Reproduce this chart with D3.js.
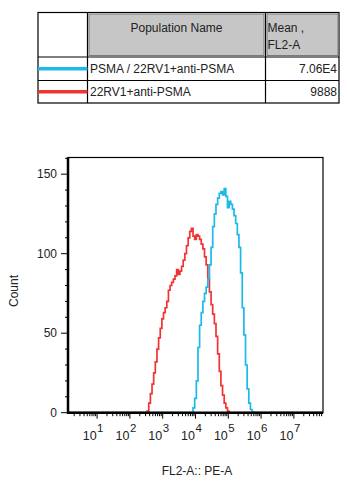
<!DOCTYPE html>
<html><head><meta charset="utf-8">
<script src="https://cdn.jsdelivr.net/npm/d3@7"></script>
<style>
html,body{margin:0;padding:0;background:#fff;}
text{font-family:"Liberation Sans",Arial,sans-serif;fill:#222;}
</style></head>
<body>
<svg id="c" width="347" height="486"></svg>
<script>
// ---- data ----
const seriesNames = ["PSMA / 22RV1+anti-PSMA", "22RV1+anti-PSMA"];
const seriesMeans = ["7.06E4", "9888"];
const seriesColors = ["#1cb9ea", "#f03434"];
// red: log10 channel positions and counts
const redLog = [2.50,2.55,2.60,2.65,2.70,2.75,2.80,2.85,2.90,2.95,3.00,3.05,3.10,3.15,3.20,3.25,3.30,3.35,3.40,3.45,3.50,3.55,3.60,3.65,3.70,3.75,3.80,3.85,3.90,3.95,4.00,4.05,4.10,4.15,4.20,4.25,4.30,4.35,4.40,4.45,4.50,4.55,4.60,4.65,4.70,4.75,4.80,4.85,4.90,4.95,5.00,5.05];
const redCount = [0,1,6,12,18,25,32,40,47,53,59,63,66,70,77,80,82,84,86,90,87,89,92,96,100,105,110,114,116,111,109,112,111,109,106,103,98,93,84,76,68,62,56,48,37,26,17,11,6,3,1,0];
const blueLog = [3.90,3.95,4.00,4.05,4.10,4.15,4.20,4.25,4.30,4.35,4.40,4.45,4.50,4.55,4.60,4.65,4.70,4.75,4.80,4.85,4.90,4.95,5.00,5.05,5.10,5.15,5.20,5.25,5.30,5.35,5.40,5.45,5.50,5.55,5.60,5.65,5.70,5.75,5.80];
const blueCount = [0,3,9,20,41,55,63,70,75,79,84,93,104,117,125,131,135,138,139,137,141,136,129,133,131,128,124,119,112,104,88,66,49,30,15,6,2,0.5,0];
const yTicks = [0,50,100,150];
const xDecades = [1,2,3,4,5,6,7];
const xLabel = "FL2-A:: PE-A";
const yLabel = "Count";
const headers = ["Population Name", "Mean ,", "FL2-A"];

const svg = d3.select("#c");
const FS = 12;

// ---- table ----
const T = {x0:38, x1:87.5, x2:265.5, x3:339, y0:12.5, y1:57, y2:80.5, y3:103};
const tg = svg.append("g");
tg.append("rect").attr("x",T.x0).attr("y",T.y0).attr("width",T.x3-T.x0).attr("height",T.y3-T.y0)
  .attr("fill","#fff").attr("stroke","#000").attr("stroke-width",1.2);
[[T.x1+1.5,T.x2-1.5],[T.x2+1.5,T.x3-1]].forEach(([a,b])=>{
  tg.append("rect").attr("x",a).attr("y",T.y0+1.5).attr("width",b-a).attr("height",T.y1-T.y0-3)
    .attr("fill","#c6c6c6").attr("stroke","#7a7a7a").attr("stroke-width",1);
});
[T.x1,T.x2].forEach(x=>tg.append("line").attr("x1",x).attr("x2",x).attr("y1",T.y0).attr("y2",T.y3).attr("stroke","#000").attr("stroke-width",1.2));
[T.y1,T.y2].forEach(y=>tg.append("line").attr("x1",T.x0).attr("x2",T.x3).attr("y1",y).attr("y2",y).attr("stroke","#000").attr("stroke-width",1.2));
tg.append("text").attr("x",(T.x1+T.x2)/2).attr("y",32).attr("text-anchor","middle").attr("font-size",FS).text(headers[0]);
tg.append("text").attr("x",T.x2+2).attr("y",32).attr("font-size",FS).text(headers[1]);
tg.append("text").attr("x",T.x2+2).attr("y",49).attr("font-size",FS).text(headers[2]);
const rowY = [T.y1,T.y2];
[0,1].forEach(i=>{
  const cy = (rowY[i] + (i===0?T.y2:T.y3))/2;
  tg.append("line").attr("x1",T.x0).attr("x2",T.x1).attr("y1",cy).attr("y2",cy)
    .attr("stroke",seriesColors[i]).attr("stroke-width",3.5);
  tg.append("text").attr("x",T.x1+2.5).attr("y",cy+4).attr("font-size",FS).text(seriesNames[i]);
  tg.append("text").attr("x",T.x3-2).attr("y",cy+4).attr("text-anchor","end").attr("font-size",FS).text(seriesMeans[i]);
});

// ---- chart ----
const P = {l:68, r:323, t:157.5, b:412.7};
const x = d3.scaleLog().domain([Math.pow(10,0.113), Math.pow(10,7.887)]).range([P.l, P.r]);
const y = d3.scaleLinear().domain([0,160.5]).range([P.b, P.t]);

// frame
svg.append("rect").attr("x",P.l).attr("y",P.t).attr("width",P.r-P.l).attr("height",P.b-P.t)
  .attr("fill","none").attr("stroke","#000").attr("stroke-width",1.2);

// histograms
function series(logs, counts){
  const pts = logs.map((l,i)=>[Math.pow(10,l), counts[i]]);
  return [[x.domain()[0],0]].concat(pts, [[x.domain()[1],0]]);
}
const line = d3.line().x(d=>x(d[0])).y(d=>y(d[1])).curve(d3.curveStep);
svg.append("path").datum(series(redLog,redCount)).attr("d",line)
  .attr("fill","none").attr("stroke",seriesColors[1]).attr("stroke-width",1.7);
svg.append("path").datum(series(blueLog,blueCount)).attr("d",line)
  .attr("fill","none").attr("stroke",seriesColors[0]).attr("stroke-width",1.7);

// y axis
const yMinor = d3.range(0,161,10);
const yAx = svg.append("g");
yMinor.forEach(v=>{
  const major = yTicks.includes(v);
  yAx.append("line").attr("x1",P.l-(major?7:3)).attr("x2",P.l).attr("y1",y(v)).attr("y2",y(v))
    .attr("stroke","#000").attr("stroke-width",1);
});
yTicks.forEach(v=>yAx.append("text").attr("x",P.l-11).attr("y",y(v)+4).attr("text-anchor","end").attr("font-size",FS).text(v));
yAx.append("line").attr("x1",P.l).attr("x2",P.l).attr("y1",P.t).attr("y2",P.b+1).attr("stroke","#000").attr("stroke-width",2.5);

// x axis
const xAx = svg.append("g");
const minor = [];
for(let d=0; d<=7; d++) for(let m=1; m<=9; m++){
  const v = m*Math.pow(10,d);
  if(v>=x.domain()[0] && v<=x.domain()[1]) minor.push([v,m===1]);
}
minor.forEach(([v,maj])=>{
  xAx.append("line").attr("x1",x(v)).attr("x2",x(v)).attr("y1",P.b).attr("y2",P.b+(maj?6:3.5))
    .attr("stroke","#000").attr("stroke-width",1);
});
xAx.append("line").attr("x1",P.l-1).attr("x2",P.r).attr("y1",P.b).attr("y2",P.b).attr("stroke","#000").attr("stroke-width",2.5);
xDecades.forEach(d=>{
  const px = x(Math.pow(10,d));
  xAx.append("text").attr("x",px-0.5).attr("y",439.5).attr("text-anchor","end").attr("font-size",12.5).text("10");
  xAx.append("text").attr("x",px).attr("y",431.5).attr("font-size",11.5).text(d);
});

svg.append("text").attr("x",197).attr("y",475).attr("text-anchor","middle").attr("font-size",FS).text(xLabel);
svg.append("text").attr("transform","translate(18,291) rotate(-90)").attr("text-anchor","middle").attr("font-size",FS).text(yLabel);
</script>
</body></html>
